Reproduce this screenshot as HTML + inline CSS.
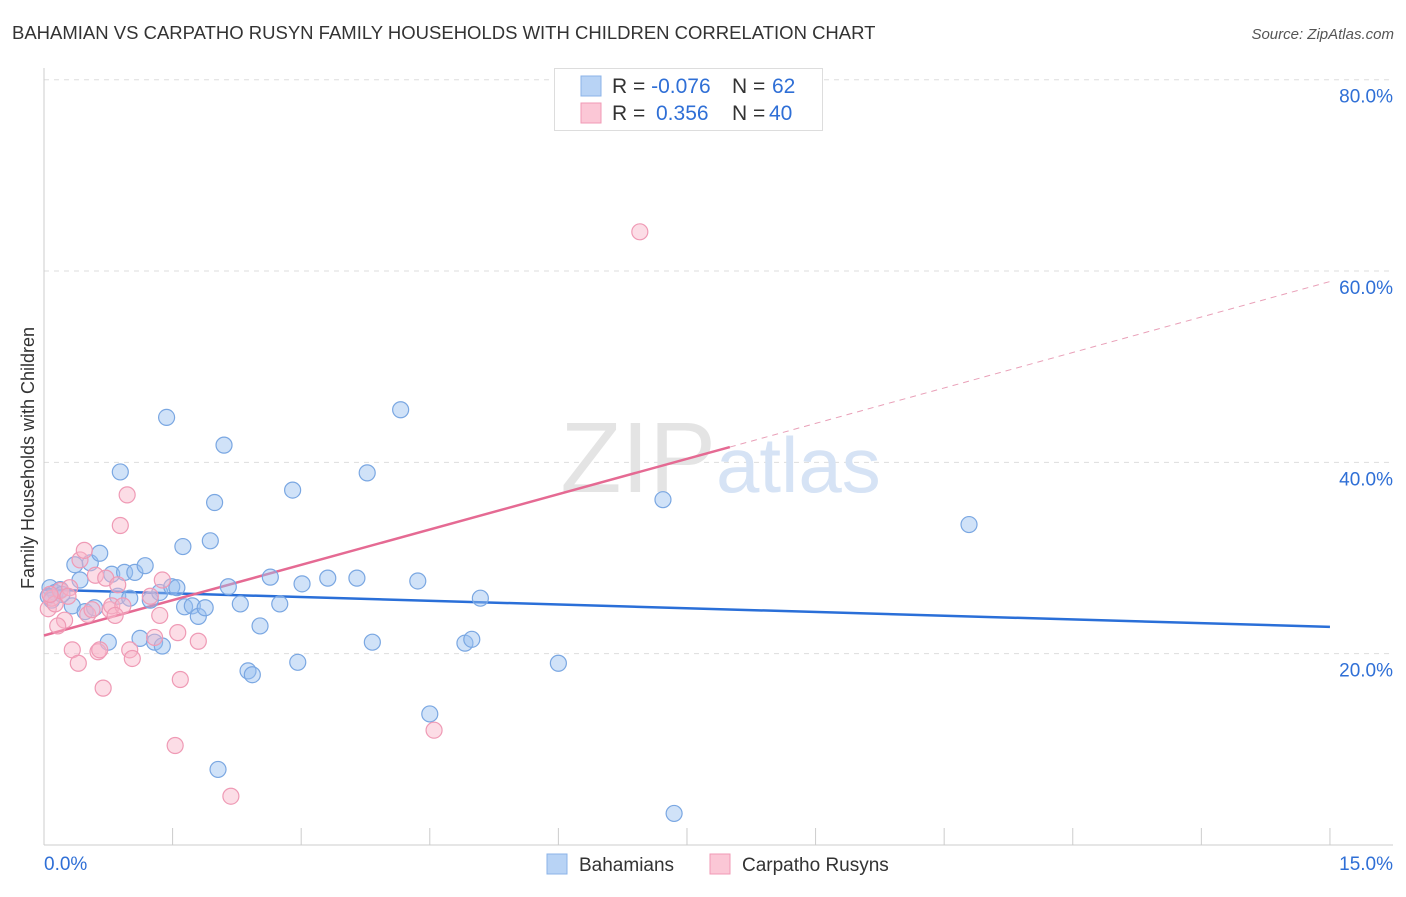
<!DOCTYPE html>
<html><head><meta charset="utf-8"><style>
body{margin:0;background:#fff;font-family:"Liberation Sans",sans-serif;}
svg text{font-family:"Liberation Sans",sans-serif;}
</style></head><body>
<svg id="chart" width="1406" height="892" xmlns="http://www.w3.org/2000/svg">
<text x="12" y="39" font-size="18.5" fill="#333">BAHAMIAN VS CARPATHO RUSYN FAMILY HOUSEHOLDS WITH CHILDREN CORRELATION CHART</text>
<text x="1394" y="39" font-size="15" fill="#555" text-anchor="end" font-style="italic">Source: ZipAtlas.com</text>
<text x="34" y="458" font-size="18" fill="#333" text-anchor="middle" transform="rotate(-90 34 458)">Family Households with Children</text>
<g id="grid"></g>
<text x="716" y="492" font-size="100" fill="#e4e4e4" text-anchor="end" font-family="Liberation Serif">ZIP</text>
<text x="716" y="492" font-size="78" fill="#d6e3f5">atlas</text>
<g id="lines"></g>
<g id="pts"></g>
<g>
<rect x="554.5" y="68.5" width="268" height="62" fill="#fff" stroke="#ddd"/>
<rect x="581" y="76" width="20" height="20" fill="#b8d3f5" stroke="#8bb3e8"/>
<rect x="581" y="103" width="20" height="20" fill="#fbc7d6" stroke="#f09ab5"/>
<text x="612" y="93" font-size="21" fill="#333">R = <tspan fill="#2f6fd6">-0.076</tspan><tspan x="732">N = </tspan><tspan x="772" fill="#2f6fd6">62</tspan></text>
<text x="612" y="120" font-size="21" fill="#333">R = <tspan x="656" fill="#2f6fd6">0.356</tspan><tspan x="732">N = </tspan><tspan x="769" fill="#2f6fd6">40</tspan></text>
</g>
<g>
<rect x="547" y="854" width="20" height="20" fill="#b8d3f5" stroke="#8bb3e8"/>
<text x="579" y="871" font-size="19" fill="#333">Bahamians</text>
<rect x="710" y="854" width="20" height="20" fill="#fbc7d6" stroke="#f09ab5"/>
<text x="742" y="871" font-size="19" fill="#333">Carpatho Rusyns</text>
</g>
</svg>
<script>
const yTicks=[20,40,60,80];
const xTickLabels=["0.0%","15.0%"];
const blueX=[0.07,0.13,0.19,0.05,0.09,0.21,0.33,0.36,0.42,0.48,0.54,0.59,0.65,0.75,0.79,0.86,0.89,0.94,1.00,1.06,1.12,1.18,1.24,1.29,1.35,1.38,1.43,1.49,1.55,1.62,1.64,1.73,1.80,1.88,1.94,1.99,2.03,2.10,2.15,2.29,2.38,2.43,2.52,2.64,2.75,2.90,2.96,3.01,3.31,3.65,3.77,3.83,4.16,4.36,4.50,4.91,4.99,5.09,6.00,7.22,7.35,10.79];
const blueY=[26.9,26.4,26.7,26.0,25.6,26.2,25.0,29.3,27.7,24.4,29.5,24.8,30.5,21.2,28.3,26.0,39.0,28.5,25.8,28.5,21.6,29.2,25.6,21.2,26.4,20.8,44.7,27.0,26.9,31.2,24.9,25.0,23.9,24.8,31.8,35.8,7.9,41.8,27.0,25.2,18.2,17.8,22.9,28.0,25.2,37.1,19.1,27.3,27.9,27.9,38.9,21.2,45.5,27.6,13.7,21.1,21.5,25.8,19.0,36.1,3.3,33.5];
const pinkX=[0.05,0.09,0.13,0.19,0.24,0.30,0.33,0.40,0.42,0.47,0.51,0.56,0.60,0.63,0.65,0.69,0.72,0.77,0.79,0.86,0.89,0.92,0.97,1.00,1.03,1.24,1.29,1.35,1.38,1.53,1.56,1.59,1.80,2.18,4.55,6.95,0.07,0.16,0.28,0.83];
const pinkY=[24.7,25.8,25.2,26.6,23.5,26.9,20.4,19.0,29.8,30.8,24.1,24.6,28.2,20.2,20.4,16.4,27.9,24.6,25.0,27.2,33.4,25.0,36.6,20.4,19.5,26.0,21.7,24.0,27.7,10.4,22.2,17.3,21.3,5.1,12.0,64.1,26.2,22.9,26.0,24.0];
const blueLine=[0,26.7,15,22.8];
const pinkLine=[0,21.9,8.0,41.6,15,58.9];
function sx(v){return 44+v*85.73;}
function sy(v){return 845-v*9.566;}
const NS="http://www.w3.org/2000/svg";
function mk(t,a,p){const e=document.createElementNS(NS,t);for(const k in a)e.setAttribute(k,a[k]);p.appendChild(e);return e;}
const g=document.getElementById('grid');
yTicks.forEach(t=>{
const l=mk('line',{x1:44,x2:1393,y1:sy(t),y2:sy(t),stroke:'#ddd','stroke-dasharray':'5,5'},g);


const tx=mk('text',{x:1393,y:sy(t)+23,'font-size':19,fill:'#2f6fd6','text-anchor':'end'},g);
tx.textContent=t.toFixed(1)+'%';


});
mk('line',{x1:44,x2:44,y1:68,y2:845,stroke:'#ccc'},g);
mk('line',{x1:44,x2:1393,y1:845,y2:845,stroke:'#ccc'},g);
for(let i=1;i<=10;i++){const tk=mk('line',{x1:sx(i*1.5),x2:sx(i*1.5),y1:828,y2:845,stroke:'#ccc'},g);

}
const t0=mk('text',{x:44,y:870,'font-size':19,fill:'#2f6fd6'},g);t0.textContent=xTickLabels[0];


const t1=mk('text',{x:1393,y:870,'font-size':19,fill:'#2f6fd6','text-anchor':'end'},g);t1.textContent=xTickLabels[1];


const L=document.getElementById('lines');
const bl=mk('line',{x1:sx(blueLine[0]),y1:sy(blueLine[1]),x2:sx(blueLine[2]),y2:sy(blueLine[3]),stroke:'#2a6fd8','stroke-width':2.5},L);


const pl=mk('line',{x1:sx(pinkLine[0]),y1:sy(pinkLine[1]),x2:sx(pinkLine[2]),y2:sy(pinkLine[3]),stroke:'#e56a93','stroke-width':2.5},L);


const pd=mk('line',{x1:sx(pinkLine[2]),y1:sy(pinkLine[3]),x2:sx(pinkLine[4]),y2:sy(pinkLine[5]),stroke:'#e9a0b8','stroke-width':1,'stroke-dasharray':'6,5'},L);


const P=document.getElementById('pts');
blueX.forEach((x,i)=>{const c=mk('circle',{cx:sx(x),cy:sy(blueY[i]),r:8,fill:'rgba(150,190,240,0.45)',stroke:'#7aa7e2','stroke-width':1.2},P);

});
pinkX.forEach((x,i)=>{const c=mk('circle',{cx:sx(x),cy:sy(pinkY[i]),r:8,fill:'rgba(248,180,200,0.45)',stroke:'#ef9ab5','stroke-width':1.2},P);

});
</script>
</body></html>
